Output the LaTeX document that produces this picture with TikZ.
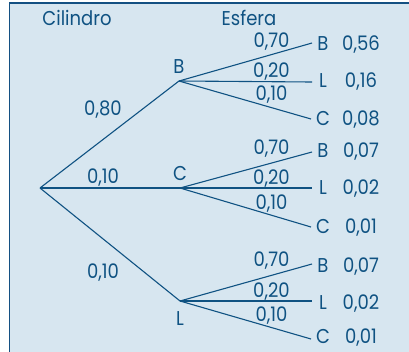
\documentclass[tikz,border=0pt]{standalone}
\usepackage{fontspec}
\setmainfont[FakeStretch=0.9]{Poppins}
\definecolor{bgblue}{RGB}{215,230,240}
\definecolor{ink}{RGB}{15,82,130}
\definecolor{frame}{RGB}{20,80,130}
\begin{document}
\begin{tikzpicture}[x=1pt,y=-1pt,
  lbl/.style={anchor=base,inner sep=0pt,text=ink,font=\fontsize{20}{20}\selectfont},
  br/.style={draw=ink,line width=1.1pt}]
\useasboundingbox (0,0) rectangle (409,351);
\fill[white] (0,0) rectangle (409,351);
\fill[bgblue] (9.5,3) rectangle (410,352);
\draw[frame,line width=1.3pt] (9.5,352) -- (9.5,3) -- (410,3);
% headings
\node[lbl] (hc) at (77,25) {Cilindro};
\node[lbl] (he) at (249,25) {Esfera};
% tree points
\coordinate (r) at (40,188);
\coordinate (b) at (179,81);
\coordinate (c) at (180,188);
\coordinate (l) at (180,301);
\coordinate (b1) at (312,43);
\coordinate (b2) at (312,82);
\coordinate (b3) at (311,119);
\coordinate (c1) at (312,152);
\coordinate (c2) at (312,188);
\coordinate (c3) at (311,227);
\coordinate (l1) at (312,264);
\coordinate (l2) at (312,301);
\coordinate (l3) at (311,339);
\draw[br] (r) -- (b); \draw[br] (r) -- (c); \draw[br] (r) -- (l);
\foreach \p in {b,c,l}{\draw[br] (\p) -- (\p1); \draw[br] (\p) -- (\p2); \draw[br] (\p) -- (\p3);}
% first level labels
\node[lbl] (nb) at (179,73) {B};
\node[lbl] (nc) at (180,180) {C};
\node[lbl] (nl) at (180,325) {L};
\node[lbl] (p1) at (103,115) {0,80};
\node[lbl] (p2) at (103,183) {0,10};
\node[lbl] (p3) at (103,278) {0,10};
% second level labels
\node[lbl] (q11) at (271.5,47) {0,70};
\node[lbl] (q12) at (271.5,77) {0,20};
\node[lbl] (q13) at (271.5,100) {0,10};
\node[lbl] (q21) at (271.5,154) {0,70};
\node[lbl] (q22) at (271.5,184) {0,20};
\node[lbl] (q23) at (271.5,209) {0,10};
\node[lbl] (q31) at (271.5,266) {0,70};
\node[lbl] (q32) at (271.5,297) {0,20};
\node[lbl] (q33) at (271.5,321) {0,10};
% leaves
\node[lbl] (e11) at (323,50) {B};   \node[lbl] (v11) at (361,50) {0,56};
\node[lbl] (e12) at (323,87) {L};   \node[lbl] (v12) at (361,87) {0,16};
\node[lbl] (e13) at (323,125) {C};  \node[lbl] (v13) at (361,125) {0,08};
\node[lbl] (e21) at (323,157) {B};  \node[lbl] (v21) at (361,157) {0,07};
\node[lbl] (e22) at (323,194) {L};  \node[lbl] (v22) at (361,194) {0,02};
\node[lbl] (e23) at (323,233) {C};  \node[lbl] (v23) at (361,233) {0,01};
\node[lbl] (e31) at (323,272) {B};  \node[lbl] (v31) at (361,272) {0,07};
\node[lbl] (e32) at (323,309) {L};  \node[lbl] (v32) at (361,309) {0,02};
\node[lbl] (e33) at (323,343) {C};  \node[lbl] (v33) at (361,343) {0,01};
\end{tikzpicture}
\end{document}
